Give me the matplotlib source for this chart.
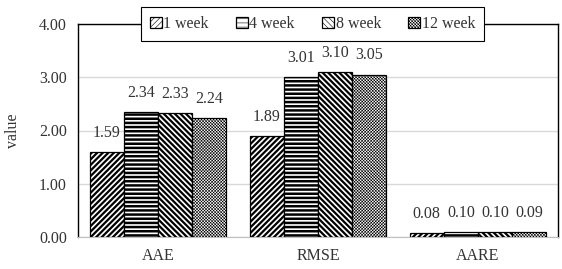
import matplotlib
matplotlib.use("Agg")
import matplotlib.pyplot as plt
import numpy as np

categories = ["AAE", "RMSE", "AARE"]
series_names = ["1 week", "4 week", "8 week", "12 week"]
week1 = [1.59, 1.89, 0.08]
week4 = [2.34, 3.01, 0.10]
week8 = [2.33, 3.10, 0.10]
week12 = [2.24, 3.05, 0.09]
yticks = [0.0, 1.0, 2.0, 3.0, 4.0]

plt.rcParams['font.family'] = ['Liberation Serif', 'DejaVu Serif']
plt.rcParams['hatch.color'] = 'black'

fig = plt.figure(figsize=(5.62, 2.69), dpi=100)
ax = fig.add_axes([78/562, 1-237/269, 480/562, 213/269])

series = [week1, week4, week8, week12]
hatches = ['//////', '----', '\\\\\\\\\\\\', 'x' * 11]
hlw = [1.6, 1.8, 1.6, 0.4]
bw = 0.214
x = np.arange(len(categories))
fs = 11.5
tc = '#333333'
for i, (vals, h, name) in enumerate(zip(series, hatches, series_names)):
    plt.rcParams['hatch.linewidth'] = hlw[i]
    off = (i - 1.5) * bw
    bars = ax.bar(x + off, vals, width=bw, color='white', edgecolor='black',
                  linewidth=0.9, hatch=h, label=name, zorder=3)
    for xi, v in zip(x + off, vals):
        ax.annotate(f"{v:.2f}", (xi, v), xytext=(0, 8), textcoords='offset points',
                    ha='center', va='bottom', fontsize=fs, color=tc)

ax.set_xlim(-0.5, 2.5)
ax.set_ylim(0, 4)
ax.set_yticks(yticks)
ax.set_yticklabels([f"{t:.2f}" for t in yticks], fontsize=fs, color=tc)
ax.set_xticks(x)
ax.set_xticklabels(categories, fontsize=fs, color=tc)
ax.tick_params(length=0, pad=8)
ax.yaxis.grid(True, color='#d9d9d9', linewidth=1, zorder=0)
ax.set_axisbelow(True)
for s in ['left', 'top', 'right']:
    ax.spines[s].set_color('black')
    ax.spines[s].set_linewidth(1)
ax.spines['bottom'].set_color('#bfbfbf')
ax.set_ylabel('value', fontsize=fs, color=tc, labelpad=13)

leg = ax.legend(loc='center', bbox_to_anchor=((312.5-78)/480, 1.0), ncol=4,
                frameon=True, fancybox=False, edgecolor='black', fontsize=fs,
                handlelength=0.75, handleheight=0.75, handletextpad=0.1,
                columnspacing=1.7, borderpad=0.55, borderaxespad=0, framealpha=1)
leg.get_frame().set_linewidth(0.8)
for t in leg.get_texts():
    t.set_color(tc)
leg.set_zorder(10)

fig.savefig('out.png', dpi=100)
